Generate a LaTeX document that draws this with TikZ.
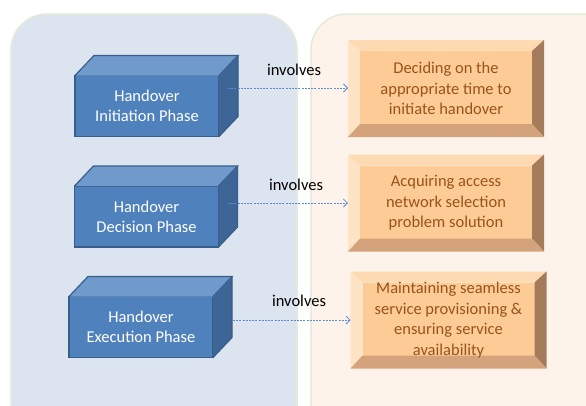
\documentclass[tikz,border=0pt]{standalone}
\usepackage{fontspec}
\setmainfont{Carlito}
\usetikzlibrary{arrows.meta}
\definecolor{panelblue}{HTML}{DCE4F0}
\definecolor{panelorange}{HTML}{FDF3EA}
\definecolor{panelrim}{HTML}{E4EBD8}
\definecolor{cubefront}{HTML}{4F81BD}
\definecolor{cubetop}{HTML}{7099CC}
\definecolor{cubeside}{HTML}{3D6596}
\definecolor{cubeline}{HTML}{385D8A}
\definecolor{bevface}{HTML}{FCCB96}
\definecolor{bevtop}{HTML}{FDDAB2}
\definecolor{bevleft}{HTML}{FEE3C5}
\definecolor{bevright}{HTML}{A47C5C}
\definecolor{bevbottom}{HTML}{D5A37B}
\definecolor{bevtext}{HTML}{9A531A}
\definecolor{arrowblue}{HTML}{5B8BD0}
\tikzset{
  panel/.style={line width=1.5pt, draw=panelrim, rounded corners=36pt},
  cubeface/.style={fill=cubefront, draw=cubeline, line width=1.2pt, minimum width=144pt, minimum height=61pt, outer sep=0pt, inner sep=0pt, align=center, text=white, font=\fontsize{16.5}{20}\selectfont},
  cubeedge/.style={draw=cubeline, line width=1.2pt, line join=miter},
  bevnode/.style={minimum width=196pt, minimum height=97pt, outer sep=0pt, inner sep=0pt, align=center, text=bevtext, font=\fontsize{16.5}{20.5}\selectfont},
  lbl/.style={font=\fontsize{16.5}{20}\selectfont, text=black, inner sep=0pt},
  link/.style={draw=arrowblue, line width=0.8pt, dash pattern=on 2pt off 1.2pt, -{Straight Barb[length=4pt,width=8pt]}}
}
\newcommand\phasecube[4]{%
  \node[cubeface] (#1) at (#2,#3) {#4};
  \fill[cubetop] (#1.north west) -- ++(19,-20) -- ++(144,0) -- (#1.north east) -- cycle;
  \draw[cubeedge] (#1.north west) -- ++(19,-20) -- ++(144,0) -- (#1.north east);
  \fill[cubeside] (#1.north east) -- ++(19,-20) -- ++(0,61) -- (#1.south east) -- cycle;
  \draw[cubeedge] (#1.north east) ++(19,-20) -- ++(0,61) -- (#1.south east);
}
\newcommand\bevelbox[4]{%
  \fill[bevface] (#2-86,#3-37.5) rectangle (#2+86,#3+35.5);
  \fill[bevtop] (#2-98,#3-48.5) -- (#2+98,#3-48.5) -- (#2+86,#3-37.5) -- (#2-86,#3-37.5) -- cycle;
  \fill[bevleft] (#2-98,#3-48.5) -- (#2-86,#3-37.5) -- (#2-86,#3+35.5) -- (#2-98,#3+48.5) -- cycle;
  \fill[bevright] (#2+98,#3-48.5) -- (#2+98,#3+48.5) -- (#2+86,#3+35.5) -- (#2+86,#3-37.5) -- cycle;
  \fill[bevbottom] (#2-98,#3+48.5) -- (#2-86,#3+35.5) -- (#2+86,#3+35.5) -- (#2+98,#3+48.5) -- cycle;
  \node[bevnode] (#1) at (#2,#3) {#4};
}
\begin{document}
\begin{tikzpicture}[x=1pt,y=-1pt]
\useasboundingbox (0,0) rectangle (586,405);
\clip (0,0) rectangle (586,405);
\fill[white] (0,0) rectangle (586,405);
\path[panel, fill=panelblue] (11,14) rectangle (297,460);
\path[panel, fill=panelorange] (311,14) rectangle (650,460);

\phasecube{c1}{147}{106}{Handover\\Initiation Phase}
\phasecube{c2}{146.5}{216.5}{Handover\\Decision Phase}
\phasecube{c3}{141}{327}{Handover\\Execution Phase}

\bevelbox{b1}{446}{88.5}{Deciding on the\\appropriate time to\\initiate handover}
\bevelbox{b2}{446}{203}{Acquiring access\\network selection\\problem solution}
\bevelbox{b3}{448.5}{320}{Maintaining seamless\\service provisioning \&\\ensuring service\\availability}

\coordinate (s1) at (228,88);
\coordinate (s2) at (228,203);
\coordinate (s3) at (233,320);
\draw[link] (s1) -- (s1 -| b1.west);
\draw[link] (s2) -- (s2 -| b2.west);
\draw[link] (s3) -- (s3 -| b3.west);

\node[lbl] (l1) at (294,70) {involves};
\node[lbl] (l2) at (296,185) {involves};
\node[lbl] (l3) at (299,301) {involves};
\end{tikzpicture}
\end{document}
